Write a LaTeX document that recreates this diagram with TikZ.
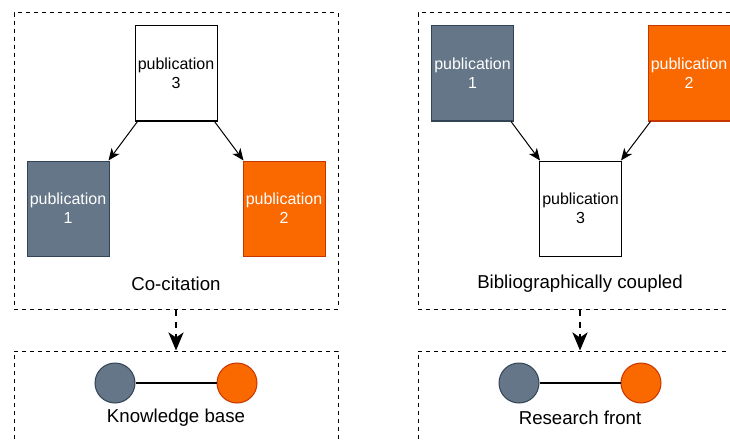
\documentclass[tikz,border=0pt]{standalone}
\usepackage{fontspec}
\setmainfont{Liberation Sans}
\usetikzlibrary{arrows.meta}
\definecolor{slatefill}{HTML}{647687}
\definecolor{slateline}{HTML}{314354}
\definecolor{orangefill}{HTML}{FA6800}
\definecolor{orangeline}{HTML}{C73500}

\begin{document}
\begin{tikzpicture}[x=1pt,y=-1pt,
  group/.style={draw, line width=1pt, dash pattern=on 4pt off 4pt, minimum width=324pt, inner sep=0pt},
  pub/.style={draw, line width=1pt, minimum width=82pt, minimum height=95pt, inner sep=0pt,
    align=center, font=\fontsize{16}{19}\selectfont},
  grey/.style={fill=slatefill, draw=slateline, text=white},
  orange/.style={fill=orangefill, draw=orangeline, text=white},
  plain/.style={fill=white, draw=black, text=black},
  dot/.style={circle, line width=1pt, minimum size=40pt, inner sep=0pt},
  caption/.style={font=\fontsize{18.67}{22}\selectfont, inner sep=0pt},
  cite/.style={-{Stealth[length=12pt,width=10pt,inset=3.5pt]}, line width=1pt},
  flow/.style={-{Stealth[length=18pt,width=15pt,inset=5pt]}, line width=2.7pt, dash pattern=on 6pt off 6pt},
]
\useasboundingbox (0,0) rectangle (730,441);
\clip (0,0) rectangle (730,441);

% group frames
\node[group, minimum height=296pt] (gl) at (176,161) {};
\node[group, minimum height=296pt] (gr) at (580,161) {};
\node[group, minimum height=140pt] (kl) at (176,421) {};
\node[group, minimum height=140pt] (kr) at (580,421) {};

% co-citation
\node[pub, plain]  (l3) at (176,73.5)  {publication\\3};
\node[pub, grey]   (l1) at (68,208.5)  {publication\\1};
\node[pub, orange] (l2) at (284,208.5) {publication\\2};
\node[caption] (lc) at (176,284) {Co-citation};
\draw[cite] ([xshift=3pt]l3.south west) -- ([xshift=-1pt]l1.north east);
\draw[cite] ([xshift=-3pt]l3.south east) -- ([xshift=1pt]l2.north west);

% bibliographic coupling
\node[pub, grey]   (r1) at (472.5,73.5) {publication\\1};
\node[pub, orange] (r2) at (689,73.5)   {publication\\2};
\node[pub, plain]  (r3) at (580.5,208.5) {publication\\3};
\node[caption] (rc) at (580,284) {Bibliographically coupled};
\draw[cite] ([xshift=-3pt]r1.south east) -- ([xshift=1pt]r3.north west);
\draw[cite] ([xshift=3pt]r2.south west) -- ([xshift=-1pt]r3.north east);

% transitions to the networks
\draw[flow] (gl.south) -- (kl.north);
\draw[flow] (gr.south) -- (kr.north);

% resulting networks
\node[dot, fill=slatefill, draw=slateline] (ka) at (115,383) {};
\node[dot, fill=orangefill, draw=orangeline] (kb) at (237,383) {};
\draw[line width=2pt] (ka) -- (kb);
\node[caption] (kt) at (176,418) {Knowledge base};

\node[dot, fill=slatefill, draw=slateline] (ra) at (519,383) {};
\node[dot, fill=orangefill, draw=orangeline] (rb) at (641,383) {};
\draw[line width=2pt] (ra) -- (rb);
\node[caption] (rt) at (580,418) {Research front};
\end{tikzpicture}
\end{document}
